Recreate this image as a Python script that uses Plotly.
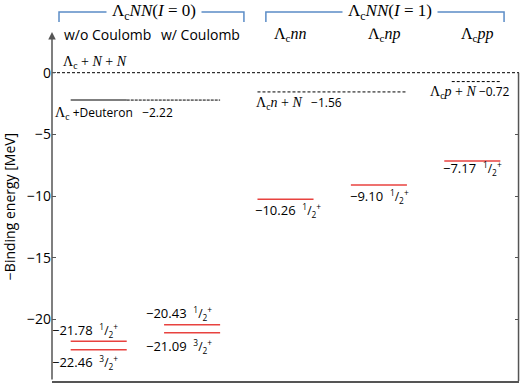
import plotly.graph_objects as go

# ---------------- data ----------------
columns = ["w/o Coulomb", "w/ Coulomb", "Λ<sub>c</sub><i>nn</i>", "Λ<sub>c</sub><i>np</i>", "Λ<sub>c</sub><i>pp</i>"]
group_titles = ["Λ<sub>c</sub><i>NN</i>(<i>I</i> = 0)", "Λ<sub>c</sub><i>NN</i>(<i>I</i> = 1)"]

level_col = [0, 0, 1, 1, 2, 3, 4]
level_energy = [-21.78, -22.46, -20.43, -21.09, -10.26, -9.10, -7.17]
level_spin = ["1", "3", "1", "3", "1", "1", "1"]  # numerator of J = n/2, parity +

threshold_names = ["Λ<sub>c</sub> + <i>N</i> + <i>N</i>", "Λ<sub>c</sub> +Deuteron", "Λ<sub>c</sub><i>n</i> + <i>N</i>", "Λ<sub>c</sub><i>p</i> + <i>N</i>"]
threshold_energy = [0.0, -2.22, -1.56, -0.72]

y_ticks = [0, -5, -10, -15, -20, -25]

# ---------------- style ----------------
SANS = "Open Sans"
SERIF = "Liberation Serif"
RED = "#e8423f"
AX = "#555555"
BLUE = "#5b8cc6"
HW = 0.3  # half width of level bars

fig = go.Figure()

# zero threshold line (full width)
fig.add_trace(go.Scatter(x=[0, 5], y=[threshold_energy[0]] * 2, mode="lines",
                         line=dict(color="black", width=1, dash="3px,2px"), hoverinfo="skip"))
# deuteron threshold: solid on col 0, dashed through col 1
fig.add_trace(go.Scatter(x=[0.5 - HW, 0.5 + HW], y=[threshold_energy[1]] * 2, mode="lines",
                         line=dict(color="black", width=1.1), hoverinfo="skip"))
fig.add_trace(go.Scatter(x=[0.5 + HW, 1.5 + HW], y=[threshold_energy[1]] * 2, mode="lines",
                         line=dict(color="black", width=1, dash="3px,1px"), hoverinfo="skip"))
# Λc n + N threshold over cols 2-3
fig.add_trace(go.Scatter(x=[2.5 - HW, 3.5 + HW], y=[threshold_energy[2]] * 2, mode="lines",
                         line=dict(color="black", width=1, dash="3px,2px"), hoverinfo="skip"))
# Λc p + N threshold over col 4
fig.add_trace(go.Scatter(x=[4.5 - 0.22, 4.5 + HW], y=[threshold_energy[3]] * 2, mode="lines",
                         line=dict(color="black", width=1, dash="3px,2px"), hoverinfo="skip"))

# bound-state levels
for c, e in zip(level_col, level_energy):
    fig.add_trace(go.Scatter(x=[c + 0.5 - HW, c + 0.5 + HW], y=[e, e], mode="lines",
                             line=dict(color=RED, width=1.5), hoverinfo="skip"))

# invisible trace for right tick axis
fig.add_trace(go.Scatter(x=[0], y=[0], yaxis="y2", mode="markers", marker=dict(opacity=0),
                         hoverinfo="skip"))

ann = []
# level labels (anchored at the left end of each bar, shifted in pixels)
label_dxpx = [-21, -21, -20, -20, -4, -3, -3]
label_dy = [11, -13, 11, -14, -11, -12, -7]
for (c, e, s, dx, dy) in zip(level_col, level_energy, level_spin, label_dxpx, label_dy):
    txt = (f"−{abs(e):.2f}&nbsp;&nbsp;"
           f"<span style='font-size:12px'><sup>{s}</sup>/<sub>2</sub><sup>+</sup></span>")
    ann.append(dict(x=c + 0.5 - HW, y=e, xref="x", yref="y", text=txt, showarrow=False,
                    xanchor="left", yanchor="middle", xshift=dx, yshift=dy,
                    font=dict(family=SANS, size=13, color="black")))

# threshold labels
thr_x = [0.1, 0.2, 2.16, 4.03]
thr_dxpx = [0, -18, 0, 0]
thr_dy = [10, -13, -11, -10]
thr_val = ["", "&nbsp;&nbsp;&nbsp;−" + f"{abs(threshold_energy[1]):.2f}",
           "&nbsp;&nbsp;&nbsp;−" + f"{abs(threshold_energy[2]):.2f}",
           "&nbsp;−" + f"{abs(threshold_energy[3]):.2f}"]
for name, e, x, dx, dy, v in zip(threshold_names, threshold_energy, thr_x, thr_dxpx, thr_dy, thr_val):
    parts = name.split(" +Deuteron")
    if len(parts) == 2:
        txt = (f"<span style='font-family:{SERIF};font-size:14px'>{parts[0]}</span>"
               f" +Deuteron{v}")
    else:
        txt = (f"<span style='font-family:{SERIF};font-size:14px'>{name}</span>"
               f"<span style='font-family:{SANS}'>{v}</span>")
    ann.append(dict(x=x, y=e, xref="x", yref="y", text=txt, showarrow=False,
                    xanchor="left", yanchor="middle", xshift=dx, yshift=dy,
                    font=dict(family=SANS, size=12, color="black")))

# column headers
col_dx = [0.09, 0.085, 0.05, 0.065, 0.06]
for i, (name, dx) in enumerate(zip(columns, col_dx)):
    serif = "Λ" in name
    ann.append(dict(x=i + 0.5 + dx, y=0.994, xref="x", yref="paper", text=name, showarrow=False,
                    xanchor="center", yanchor="middle",
                    font=dict(family=SERIF if serif else SANS, size=16 if serif else 14,
                              color="black")))

# group titles over brackets
for title, xc in zip(group_titles, [0.218, 0.724]):
    ann.append(dict(x=xc, y=1.057, xref="paper", yref="paper", text=title, showarrow=False,
                    xanchor="center", yanchor="middle", bgcolor="white", borderpad=5,
                    font=dict(family=SERIF, size=17, color="black")))

# y axis arrow
ann.append(dict(x=0, y=3.3, ax=0, ay=-25, xref="x", yref="y", axref="x", ayref="y",
                showarrow=True, arrowhead=2, arrowsize=1, arrowwidth=1.5, arrowcolor=AX,
                text="", standoff=0))

shapes = []
# brackets
for x0, x1 in [(0.015, 0.411), (0.458, 0.968)]:
    shapes.append(dict(type="path", xref="paper", yref="paper",
                       path=f"M {x0} 1.029 L {x0} 1.057 L {x1} 1.057 L {x1} 1.029",
                       line=dict(color=BLUE, width=1.5), layer="below"))
# right frame line
shapes.append(dict(type="line", xref="paper", yref="y", x0=0.999, x1=0.999, y0=0, y1=-25,
                   line=dict(color=AX, width=1.5)))

fig.update_layout(
    width=520, height=384,
    margin=dict(l=52, r=1, t=32, b=3),
    plot_bgcolor="white", paper_bgcolor="white",
    showlegend=False,
    annotations=ann, shapes=shapes,
    xaxis=dict(range=[0, 5], showline=True, linecolor=AX, linewidth=1.5, showgrid=False,
               zeroline=False, showticklabels=False, ticks=""),
    yaxis=dict(range=[-25, 3.3], tickvals=y_ticks, ticks="inside", ticklen=4, tickcolor=AX,
               showgrid=False, zeroline=False, showline=False,
               tickfont=dict(family=SANS, size=14, color="black"),
               title=dict(text="−Binding energy [MeV]", standoff=14,
                          font=dict(family=SANS, size=14, color="black"))),
    yaxis2=dict(range=[-25, 3.3], overlaying="y", side="right", tickvals=[-5, -10, -15, -20],
                ticks="inside", ticklen=4, tickcolor=AX, showticklabels=False,
                showgrid=False, zeroline=False, showline=False),
)

fig.write_html("out.html")
